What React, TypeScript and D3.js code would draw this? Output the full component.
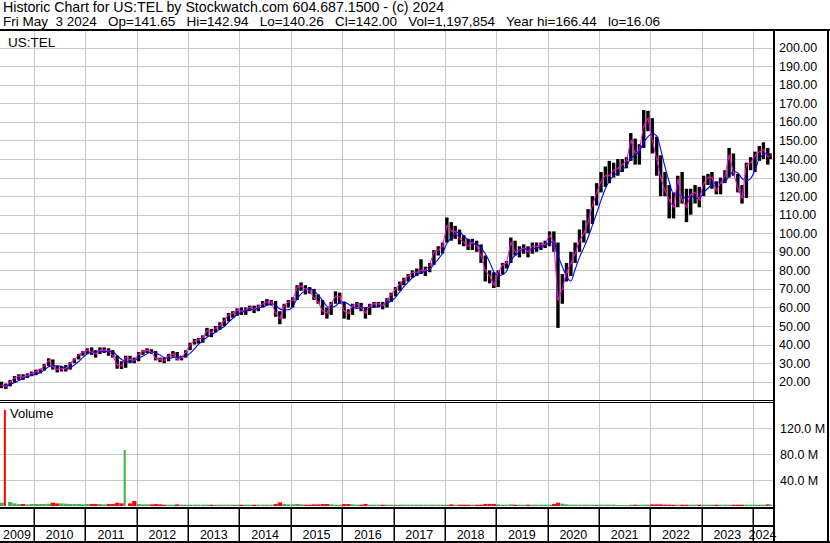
import React from 'react';
import * as d3 from 'd3';

// monthly bars, May 2009 .. May 2024
const closes = [
  18, 17.5, 20, 22, 23, 22.5, 23.5, 24.5,
  25.5, 26.5, 28.5, 31.5, 28, 26.5, 27, 27, 30, 32, 34.5, 36,
  37, 36, 35, 37, 37, 36.5, 34, 29, 28.5, 33, 32, 31.5,
  35, 36.5, 37, 36, 32.5, 32, 31.5, 34, 35, 32, 33, 36,
  40, 42, 42.5, 44, 47.5, 46.5, 49, 50.5, 53, 56, 57, 58.5,
  58, 59, 60, 59, 60.5, 62, 63, 63, 57, 54, 61, 63,
  64, 71, 71.5, 70, 69, 65, 63, 58, 57, 62, 66, 66,
  58, 57, 61, 62, 60, 57, 61, 62, 62, 61, 64, 67,
  70, 73, 75, 77, 79, 79, 80, 80, 83, 90, 91, 93,
  104, 101, 101, 97, 95, 93, 95, 93, 88, 80, 77, 72,
  79, 83, 84, 95, 90, 91, 92, 90, 93, 93, 94, 94,
  99, 95, 64, 70, 79, 84, 89, 96, 100, 106, 115, 122,
  128, 131, 131, 134, 135, 137, 139, 150, 143, 145, 158, 162,
  150, 140, 130, 123, 118, 114, 129, 118, 114, 121, 122, 118,
  127, 130, 130, 123, 127, 131, 142, 133, 124, 119, 137, 138,
  142, 144, 145, 141, 142,
];

const highs = [
  20, 19, 21, 23, 24, 24, 24.5, 25.5,
  26.5, 27, 29.5, 32.6, 32, 28.5, 28.5, 29, 30.5, 32.5, 35, 36.5,
  38, 38.5, 37, 38.5, 38.5, 38, 37, 34, 31, 34, 34, 33,
  36, 37, 38, 37.5, 36.5, 33, 33, 35, 36.5, 36, 34, 37,
  41, 43, 43.5, 45, 49, 48.5, 50, 52, 54.5, 57, 58, 59.5,
  60, 60, 61, 61, 61.5, 63.5, 64.5, 64, 63.5, 58, 62, 64,
  65.5, 72, 73.5, 72, 71, 70, 67, 64, 60, 63, 68.7, 68,
  63, 59, 62, 63, 62.5, 60, 62, 63, 63, 63, 65, 68,
  71, 74, 76, 78, 80, 81, 86, 82, 84, 91, 93, 95,
  108.5, 106, 104, 102, 99, 97, 97, 96, 94, 88, 80, 79,
  80, 84, 85, 97.7, 96, 93, 94, 93, 95, 95, 95, 96,
  101, 101, 95, 78, 84, 90, 95, 102, 107, 113, 120, 127,
  133, 136, 139, 138, 140, 140, 141, 154, 151, 148, 166.4, 166,
  162, 152, 142, 133, 126, 122, 131, 133, 124, 124, 126, 125,
  131, 132, 133, 128, 130, 134, 146, 143, 132, 126, 138, 141,
  144, 147, 149, 146, 143,
];

const lows = [
  16.5, 16.1, 17.5, 19.5, 21, 21, 22, 23,
  23.5, 24.5, 26, 28.5, 26.5, 25, 25.5, 25.5, 26.5, 30, 32, 34,
  35, 34.5, 33, 35, 35.5, 34, 33, 27, 26.8, 27.5, 30, 30,
  31, 34.5, 35.5, 35, 31.5, 30.5, 30, 31, 33.5, 31.5, 31.5, 33,
  37, 40, 40.5, 41, 44.5, 44, 46.5, 48, 50, 52.5, 54.5, 55.5,
  56, 56, 58, 57, 58, 60, 61, 61, 55, 51, 54, 60,
  60, 64, 69, 67, 67.5, 64, 62, 56, 54, 56, 62, 62,
  54, 53.4, 56, 60, 58, 54, 56, 60, 60, 59, 60, 63,
  66, 69, 72, 74, 76, 77, 78, 77, 79, 83, 88, 89,
  95, 96, 97, 94, 93, 91, 91, 90, 84, 74, 73, 70.5,
  71, 78, 81, 84, 88, 87, 89, 87, 89, 90, 91, 92,
  93, 90, 49, 62, 74, 77, 84, 90, 95, 100, 105, 115,
  122, 125, 127, 130, 131, 133, 135, 139, 137, 137, 146, 155,
  143, 131, 120, 120, 108, 108, 114, 116, 106, 110, 116, 114,
  120, 126, 124, 121, 121, 127, 130, 131, 122, 116, 119, 134,
  133, 139, 140, 137, 140,
];

// typical daily volume in millions per month
const volumes = [
  5, 148, 6, 4, 3, 3, 2.5, 3,
  3, 3, 3, 3.5, 5, 4, 4, 3.5, 3, 3, 3, 2.5,
  3, 3, 3, 3, 2.5, 3, 3, 5, 4, 86, 4, 7.7,
  3, 2.5, 2.5, 2.5, 3, 2.5, 2, 2, 2, 2.5, 2, 2,
  2, 2, 2, 2, 2, 2, 2, 2, 2, 2, 2, 2,
  2, 2, 2, 2, 2, 2, 2, 2, 3, 5.5, 3, 2.5,
  2.5, 3, 2.5, 2, 2, 2.5, 2.5, 3, 3, 2.5, 2, 2,
  3, 3, 2.5, 2, 2, 3, 2, 2, 2, 2, 2, 2,
  2, 2, 2, 2, 2, 2, 2, 2, 2, 2, 2, 2,
  2, 2.5, 2, 2, 2, 2, 2, 2, 2, 3, 3, 3,
  2.5, 2, 2, 2.5, 2, 2, 2, 2, 2, 2, 2, 2,
  2, 3, 5, 3.5, 2.5, 2, 2, 2, 2, 2, 2, 2,
  2, 2, 2, 2, 1.5, 1.5, 1.5, 2, 2, 2, 2, 2,
  2.5, 2.5, 2.5, 2, 2, 2, 2, 2, 2, 2, 2, 2,
  2, 2, 2, 2, 2, 2, 2, 2, 2, 2, 2, 2,
  2, 2, 2, 2.5, 2,
];

const priceTicks = [20, 30, 40, 50, 60, 70, 80, 90, 100, 110, 120, 130, 140, 150, 160, 170, 180, 190, 200];
const volTicks = [40, 80, 120];
const years = [2009, 2010, 2011, 2012, 2013, 2014, 2015, 2016, 2017, 2018, 2019, 2020, 2021, 2022, 2023, 2024];

const title = 'Historic Chart for US:TEL by Stockwatch.com 604.687.1500 - (c) 2024';
const quote = 'Fri May  3 2024   Op=141.65   Hi=142.94   Lo=140.26   Cl=142.00   Vol=1,197,854   Year hi=166.44   lo=16.06';

const W = 830;
const H = 543;
const axisX = 774;
const priceTop = 31;
const priceBottom = 400;
const volTop = 403;
const volBottom = 507;
const font = '"Liberation Sans", Arial, sans-serif';

const App: React.FC = () => {
  const x = d3.scaleTime()
    .domain([new Date(2010, 0, 1), new Date(2024, 0, 1)])
    .range([34, 753]);
  const y = d3.scaleLinear().domain([20, 200]).range([381.7, 47.7]);
  const yv = d3.scaleLinear().domain([0, 120]).range([506, 428]);

  const lastDay = new Date(2024, 4, 2);
  const months = d3.timeMonth.range(new Date(2009, 4, 1), new Date(2024, 5, 1));
  const bars = months.map((m, i) => {
    const mid = d3.timeDay.offset(m, 14);
    return {
      date: mid > lastDay ? lastDay : mid,
      hi: highs[i],
      lo: lows[i],
      cl: closes[i],
      vol: volumes[i],
      up: i === 0 || closes[i] >= closes[i - 1],
    };
  });

  // moving averages of the monthly closes
  const maShort = bars.map((b) => ({ date: b.date, v: b.cl }));
  const maLong = bars.map((b, i) => ({
    date: b.date,
    v: d3.mean(closes.slice(Math.max(0, i - 3), i + 1)) as number,
  }));
  const line = d3.line<{ date: Date; v: number }>()
    .x((d) => x(d.date))
    .y((d) => y(d.v));
  const smooth = d3.line<{ date: Date; v: number }>()
    .x((d) => x(d.date))
    .y((d) => y(d.v))
    .curve(d3.curveMonotoneX);

  const yearStarts = years.slice(1).map((yr) => x(new Date(yr, 0, 1)));
  const yearCells = years.map((yr) => {
    const a = Math.max(0, x(new Date(yr, 0, 1)));
    const b = Math.min(772, x(new Date(yr + 1, 0, 1)));
    return { yr, cx: (a + b) / 2 };
  });

  return (
    <svg width={W} height={H} style={{ position: 'absolute', left: 0, top: 0, background: '#fff' }} fontFamily={font}>
      <rect width={W} height={H} fill="#fff" />

      {/* header */}
      <text x={3} y={12} fontSize={14.2} fill="#000">{title}</text>
      <text x={3} y={26} fontSize={13.5} fill="#000" style={{ whiteSpace: 'pre' }}>{quote}</text>
      <rect x={0} y={29} width={W} height={2} fill="#000" />

      {/* grid */}
      <g stroke="#c8c8c8" strokeWidth={1}>
        {priceTicks.map((t) => (
          <line key={'pg' + t} x1={0} x2={axisX - 1} y1={Math.round(y(t)) + 0.5} y2={Math.round(y(t)) + 0.5} />
        ))}
        {volTicks.map((t) => (
          <line key={'vg' + t} x1={0} x2={axisX - 1} y1={Math.round(yv(t)) + 0.5} y2={Math.round(yv(t)) + 0.5} />
        ))}
        {yearStarts.map((gx, i) => (
          <g key={'yg' + i}>
            <line x1={Math.round(gx) + 0.5} x2={Math.round(gx) + 0.5} y1={priceTop} y2={priceBottom} />
            <line x1={Math.round(gx) + 0.5} x2={Math.round(gx) + 0.5} y1={volTop} y2={volBottom} />
          </g>
        ))}
      </g>

      <text x={8} y={47} fontSize={13.5} fill="#000">US:TEL</text>

      {/* price bars */}
      {bars.map((b, i) => (
        <g key={'b' + i}>
          <rect x={x(b.date) - 1.7} y={y(b.hi)} width={3.4} height={Math.max(1, y(b.lo) - y(b.hi))} fill="#000" />
          <rect x={x(b.date) + 0.2} y={y(b.cl) - 1} width={1.5} height={2} fill="#ff0000" />
        </g>
      ))}
      <path d={smooth(maLong) || ''} fill="none" stroke="#0000ff" strokeWidth={1.1} />
      <path d={line(maShort) || ''} fill="none" stroke="#ff00ff" strokeWidth={1} />

      {/* price axis */}
      {priceTicks.map((t) => (
        <text key={'pt' + t} x={779} y={y(t) + 4.5} fontSize={12.5} fill="#000">{t.toFixed(2)}</text>
      ))}

      {/* panel separator */}
      <line x1={0} x2={axisX} y1={400.5} y2={400.5} stroke="#000" strokeWidth={1} />
      <line x1={0} x2={axisX} y1={402.5} y2={402.5} stroke="#000" strokeWidth={1} />

      {/* volume */}
      {bars.map((b, i) => (
        <rect
          key={'v' + i}
          x={x(b.date) - 2}
          y={yv(b.vol)}
          width={i === 1 || i === 29 ? 2 : 4.2}
          height={yv(0) - yv(b.vol)}
          fill={b.up ? '#3cb043' : '#ff0000'}
        />
      ))}
      <text x={10} y={418} fontSize={13} fill="#000">Volume</text>
      {volTicks.map((t) => (
        <text key={'vt' + t} x={780} y={yv(t) + 4.5} fontSize={12.5} fill="#000">{t.toFixed(1)} M</text>
      ))}

      {/* x axis band */}
      <rect x={0} y={507} width={axisX + 1} height={2} fill="#000" />
      <rect x={0} y={525} width={axisX + 1} height={2} fill="#000" />
      <rect x={0} y={541} width={W} height={2} fill="#000" />
      {yearStarts.map((gx, i) => (
        <rect key={'ys' + i} x={Math.round(gx) - 0.5} y={509} width={1.5} height={32} fill="#000" />
      ))}
      {yearCells.map((c) => (
        <text key={'yl' + c.yr} x={c.cx} y={539} fontSize={12.5} textAnchor="middle" fill="#000">{c.yr}</text>
      ))}

      {/* axis and right border */}
      <rect x={773} y={29} width={2} height={514} fill="#000" />
      <rect x={827} y={29} width={2} height={514} fill="#000" />
    </svg>
  );
};

export default App;
